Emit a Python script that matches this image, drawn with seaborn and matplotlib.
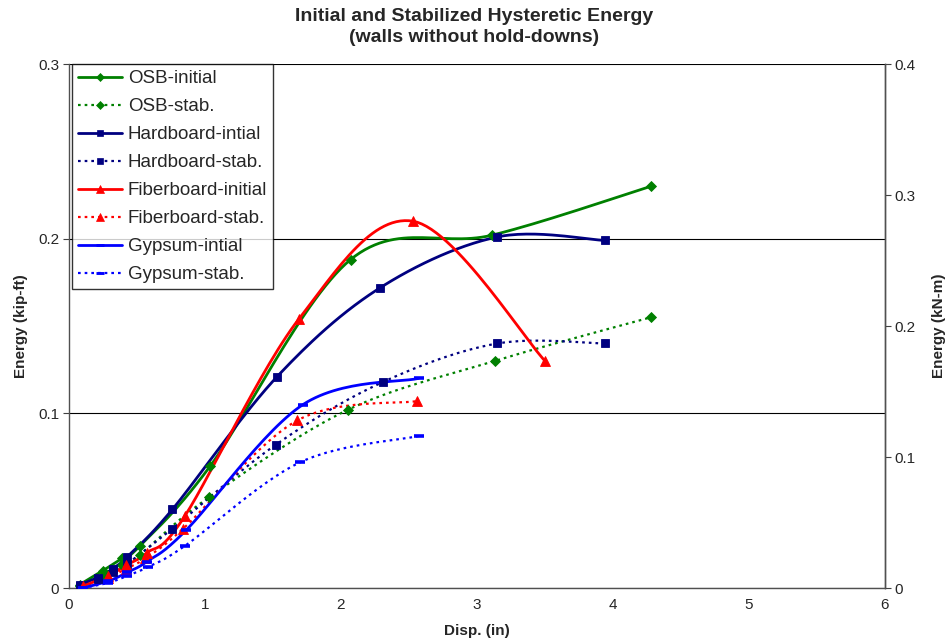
import numpy as np
import pandas as pd
import matplotlib
matplotlib.use("Agg")
import matplotlib.pyplot as plt
from matplotlib.ticker import FuncFormatter
from matplotlib.lines import Line2D
import seaborn as sns

# ---- data: displacement (in) and hysteretic energy (kip-ft) ----
osb_init_x = [0.08, 0.25, 0.39, 0.52, 1.04, 2.07, 3.11, 4.28]
osb_init_y = [0.002, 0.010, 0.017, 0.024, 0.070, 0.188, 0.202, 0.230]
osb_stab_x = [0.08, 0.25, 0.39, 0.52, 1.03, 2.05, 3.13, 4.28]
osb_stab_y = [0.001, 0.007, 0.013, 0.019, 0.052, 0.102, 0.130, 0.155]

hard_init_x = [0.08, 0.21, 0.32, 0.43, 0.76, 1.53, 2.29, 3.15, 3.94]
hard_init_y = [0.002, 0.006, 0.011, 0.018, 0.045, 0.121, 0.172, 0.201, 0.199]
hard_stab_x = [0.08, 0.21, 0.32, 0.43, 0.76, 1.52, 2.31, 3.15, 3.94]
hard_stab_y = [0.001, 0.005, 0.009, 0.014, 0.034, 0.082, 0.118, 0.140, 0.140]

fib_init_x = [0.10, 0.29, 0.42, 0.57, 0.85, 1.69, 2.53, 3.50]
fib_init_y = [0.001, 0.007, 0.013, 0.020, 0.041, 0.154, 0.210, 0.130]
fib_stab_x = [0.10, 0.29, 0.42, 0.56, 0.84, 1.68, 2.56]
fib_stab_y = [0.000, 0.006, 0.011, 0.017, 0.034, 0.096, 0.107]

gyp_init_x = [0.10, 0.29, 0.43, 0.57, 0.86, 1.72, 2.57]
gyp_init_y = [0.000, 0.004, 0.009, 0.015, 0.033, 0.105, 0.120]
gyp_stab_x = [0.10, 0.29, 0.43, 0.58, 0.85, 1.70, 2.57]
gyp_stab_y = [0.000, 0.003, 0.007, 0.012, 0.024, 0.072, 0.087]

x_ticks = [0, 1, 2, 3, 4, 5, 6]
y_ticks = [0, 0.1, 0.2, 0.3]
y2_ticks = [0, 0.1, 0.2, 0.3, 0.4]

GREEN, NAVY, RED, BLUE = "#008000", "#000080", "#FF0000", "#0000FF"
DOT = (0, (1.2, 1.8))

series = [
    ("OSB-initial", osb_init_x, osb_init_y, GREEN, "-", "D", 5.5),
    ("OSB-stab.", osb_stab_x, osb_stab_y, GREEN, DOT, "D", 5.5),
    ("Hardboard-intial", hard_init_x, hard_init_y, NAVY, "-", "s", 6),
    ("Hardboard-stab.", hard_stab_x, hard_stab_y, NAVY, DOT, "s", 6),
    ("Fiberboard-initial", fib_init_x, fib_init_y, RED, "-", "^", 7.5),
    ("Fiberboard-stab.", fib_stab_x, fib_stab_y, RED, DOT, "^", 7.5),
    ("Gypsum-intial", gyp_init_x, gyp_init_y, BLUE, "-", "_", 7),
    ("Gypsum-stab.", gyp_stab_x, gyp_stab_y, BLUE, DOT, "_", 7),
]

XPX, YPX = 136.0, 1747.0  # screen scale used for spline smoothing


def smooth(xs, ys, n=30):
    """Bezier smoothing through every point (spreadsheet-style curve)."""
    p = np.column_stack([np.asarray(xs) * XPX, np.asarray(ys) * YPX])
    m = len(p)
    out = [p[0]]
    t = np.linspace(0, 1, n)[1:, None]
    for i in range(m - 1):
        p0 = p[max(i - 1, 0)]
        p1, p2 = p[i], p[i + 1]
        p3 = p[min(i + 2, m - 1)]
        c1 = p1 + (p2 - p0) / 6.0
        c2 = p2 - (p3 - p1) / 6.0
        seg = ((1 - t) ** 3) * p1 + 3 * ((1 - t) ** 2) * t * c1 \
            + 3 * (1 - t) * t ** 2 * c2 + t ** 3 * p2
        out.extend(seg)
    out = np.array(out)
    return out[:, 0] / XPX, out[:, 1] / YPX


sns.set_theme(style="white")
plt.rcParams["font.family"] = ["Liberation Sans", "DejaVu Sans"]

fig = plt.figure(figsize=(9.48, 6.42), dpi=100)
ax = fig.add_axes([0.0728, 0.0841, 0.8607, 0.8162])

handles = []
for label, xs, ys, color, ls, mk, ms in series:
    sx, sy = smooth(xs, ys)
    curve = pd.DataFrame({"x": sx, "y": sy})
    lw = 2.0 if ls == "-" else 1.6
    sns.lineplot(data=curve, x="x", y="y", sort=False, estimator=None,
                 color=color, linewidth=lw, linestyle=ls, ax=ax, zorder=3)
    pts = pd.DataFrame({"x": xs, "y": ys})
    mew = 2.6 if mk == "_" else 0.6
    ax.plot(pts["x"], pts["y"], linestyle="none", marker=mk, markersize=ms,
            color=color, markeredgecolor=color, markeredgewidth=mew, zorder=4)
    handles.append(Line2D([], [], color=color, linewidth=lw, linestyle=ls,
                          marker=mk, markersize=ms * 0.75,
                          markeredgewidth=mew * 0.8 if mk == "_" else 0.5,
                          label=label))

ax.set_xlim(0, 6)
ax.set_ylim(0, 0.3)
ax.set_xticks(x_ticks)
ax.set_yticks(y_ticks)
fmt = FuncFormatter(lambda v, _: f"{v:g}")
ax.xaxis.set_major_formatter(fmt)
ax.yaxis.set_major_formatter(fmt)
ax.tick_params(axis="both", which="major", direction="out", length=4,
               width=0.8, color="#404040", labelsize=11, pad=3)
ax.yaxis.grid(True, color="black", linewidth=0.8)
ax.xaxis.grid(False)
for side in ("left", "bottom", "right"):
    ax.spines[side].set_color("#505050")
    ax.spines[side].set_linewidth(1.0)
ax.spines["top"].set_visible(False)
ax.set_xlabel("Disp. (in)", fontsize=11, fontweight="bold", labelpad=9)
ax.set_ylabel("Energy (kip-ft)", fontsize=11, fontweight="bold", labelpad=7)

ax2 = ax.twinx()
ax2.set_ylim(0, 0.4)
ax2.set_yticks(y2_ticks)
ax2.yaxis.set_major_formatter(fmt)
ax2.tick_params(axis="y", direction="out", length=4, width=0.8,
                color="#404040", labelsize=11, pad=3)
for side in ("left", "bottom", "top"):
    ax2.spines[side].set_visible(False)
ax2.spines["right"].set_color("#505050")
ax2.spines["right"].set_linewidth(1.0)
ax2.grid(False)
ax2.set_ylabel("Energy (kN-m)", fontsize=11, fontweight="bold", labelpad=12)

leg = ax2.legend(handles=handles, loc="upper left", bbox_to_anchor=(0.004, 1.0),
                 fontsize=13.5, frameon=True, fancybox=False, numpoints=1,
                 handlelength=2.35, handletextpad=0.3, labelspacing=0.58,
                 borderpad=0.32, borderaxespad=0.0)
leg.get_frame().set_edgecolor("black")
leg.get_frame().set_linewidth(1.0)

fig.suptitle("Initial and Stabilized Hysteretic Energy\n(walls without hold-downs)",
             fontsize=14, fontweight="bold", y=0.987, linespacing=1.3)

fig.savefig("out.png", dpi=100)
